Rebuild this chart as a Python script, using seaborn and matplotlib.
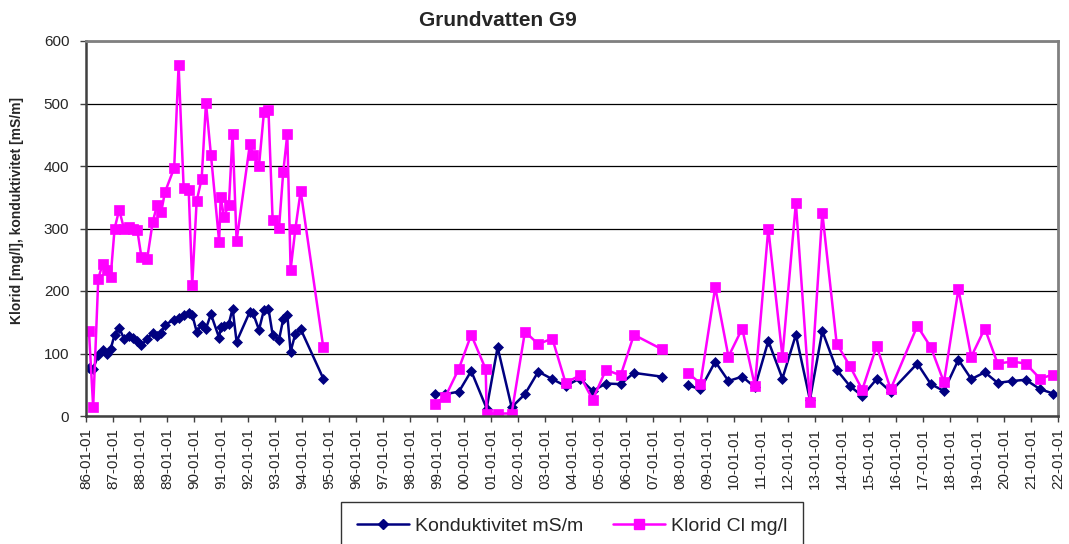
import pandas as pd
import numpy as np
import matplotlib
matplotlib.use('Agg')
import matplotlib.pyplot as plt
import matplotlib.dates as mdates
from matplotlib.lines import Line2D
import seaborn as sns

# sampling dates, shared by both series
dates = [
    '1986-02-10', '1986-04-08', '1986-06-16', '1986-08-14', '1986-10-07', '1986-11-30',
    '1987-01-23', '1987-03-26', '1987-05-29', '1987-08-05', '1987-09-28', '1987-11-25',
    '1988-01-21', '1988-04-08', '1988-06-21', '1988-08-18', '1988-10-15', '1988-12-04',
    '1989-04-08', '1989-06-07', '1989-08-14', '1989-10-21', '1989-12-08',
    '1990-02-06', '1990-04-15', '1990-06-12', '1990-08-18', '1990-12-07', '1990-12-28',
    '1991-02-10', '1991-04-18', '1991-06-07', '1991-07-31',
    '1992-01-27', '1992-03-08', '1992-05-29', '1992-08-05', '1992-10-04', '1992-11-30',
    '1993-02-24', '1993-04-22', '1993-06-16', '1993-07-31', '1993-10-04', '1993-12-14',
    '1994-10-16',
    '1998-12-04', '1999-04-25', '1999-10-25',
    '2000-04-08', '2000-10-21', '2000-11-03', '2001-03-31', '2001-10-07',
    '2002-04-05', '2002-10-02', '2003-04-10', '2003-10-07', '2004-04-17', '2004-10-07',
    '2005-04-05', '2005-10-21', '2006-04-18', '2007-04-28',
    '2008-04-17', '2008-10-04', '2009-04-22', '2009-10-18', '2010-04-22', '2010-10-11',
    '2011-04-10', '2011-10-18', '2012-04-17', '2012-10-24', '2013-04-10', '2013-10-21',
    '2014-04-17', '2014-10-02', '2015-04-15', '2015-10-21', '2016-10-16',
    '2017-04-17', '2017-10-11', '2018-04-25', '2018-10-16', '2019-04-17', '2019-10-07',
    '2020-04-22', '2020-10-21', '2021-05-02', '2021-10-25',
]

konduktivitet = [
    77, 76, 97, 106, 100, 107,
    130, 141, 124, 128, 125, 120,
    113, 124, 133, 128, 133, 146,
    154, 157, 162, 165, 162,
    135, 146, 140, 163, 125, 142,
    144, 148, 172, 119,
    167, 165, 138, 170, 172, 130,
    122, 155, 162, 103, 132, 139,
    60,
    36, 35, 39,
    72, None, 12, 110, 14,
    35, 71, 59, 48, 60, 40,
    52, 51, 69, 63,
    49, 43, 87, 56, 63, 46,
    120, 60, 130, 26, 136, 74,
    48, 32, 59, 39, 84,
    51, 40, 90, 59, 70, 53,
    56, 58, 43, 36,
]

klorid = [
    136, 14, 220, 243, 233, 222,
    300, 330, 300, 302, 300, 298,
    254, 252, 310, 337, 327, 358,
    397, 561, 365, 362, 210,
    344, 380, 501, 418, 279, 351,
    319, 338, 451, 280,
    435, 418, 400, 487, 490, 313,
    301, 390, 451, 234, 300, 360,
    110,
    20, 31, 76,
    130, 75, 4, 4, 4,
    135, 115, 124, 53, 65, 26,
    74, 65, 130, 107,
    69, 52, 206, 95, 140, 48,
    300, 95, 341, 23, 325, 116,
    80, 42, 112, 43, 144,
    110, 54, 203, 95, 140, 84,
    87, 84, 60, 66,
]

# empty rows in the sheet -> the lines are broken here
gaps = ['1997-01-01', '2007-11-01']

df = pd.DataFrame({'datum': pd.to_datetime(dates),
                   'kond': pd.to_numeric(pd.Series(konduktivitet), errors='coerce'),
                   'klorid': pd.to_numeric(pd.Series(klorid), errors='coerce')})
df['seg'] = np.searchsorted(pd.to_datetime(gaps).values, df['datum'].values)

navy = '#000080'
magenta = '#FF00FF'

sns.set_style('white')
plt.rcParams['font.family'] = ['Liberation Sans', 'DejaVu Sans']

fig, ax = plt.subplots(figsize=(10.69, 5.44), dpi=100)
fig.subplots_adjust(left=86/1069, right=1058/1069, top=1-41/544, bottom=1-416/544)

sns.lineplot(data=df.dropna(subset=['kond']), x='datum', y='kond', units='seg',
             estimator=None, color=navy, linewidth=1.8, marker='D', markersize=5,
             markeredgecolor=navy, markeredgewidth=0.5, ax=ax, legend=False)
sns.lineplot(data=df, x='datum', y='klorid', units='seg',
             estimator=None, color=magenta, linewidth=1.8, marker='s', markersize=6.5,
             markeredgecolor=magenta, markeredgewidth=0.5, ax=ax, legend=False)

ax.set_xlim(pd.Timestamp('1986-01-01'), pd.Timestamp('2022-01-01'))
ax.set_ylim(0, 600)
ax.set_yticks(range(0, 601, 100))
ax.xaxis.set_major_locator(mdates.YearLocator())
ax.xaxis.set_major_formatter(mdates.DateFormatter('%y-%m-%d'))
ax.tick_params(axis='x', labelrotation=90, labelsize=11, length=4.5, width=1,
               direction='out', pad=4, bottom=True, color='#404040')
ax.tick_params(axis='y', labelsize=11, length=4.5, width=1, direction='out',
               pad=7.5, left=True, color='#404040')
ax.set_xlabel('')
ax.set_ylabel('')

ax.yaxis.grid(True, color='black', linewidth=0.9)
ax.set_axisbelow(True)
for side in ['top', 'right']:
    ax.spines[side].set_color('#808080')
    ax.spines[side].set_linewidth(2)
for side in ['left', 'bottom']:
    ax.spines[side].set_color('#404040')
    ax.spines[side].set_linewidth(1.8)

fig.text(498/1069, 1-25.5/544, 'Grundvatten G9', ha='center', va='baseline',
         fontsize=15, fontweight='bold')
fig.text(17/1069, 1-210/544, 'Klorid [mg/l], konduktivitet [mS/m]', rotation=90,
         ha='center', va='center', fontsize=10, fontweight='bold')

handles = [Line2D([], [], color=navy, linewidth=1.8, marker='D', markersize=5),
           Line2D([], [], color=magenta, linewidth=1.8, marker='s', markersize=6.5)]
leg = fig.legend(handles, ['Konduktivitet mS/m', 'Klorid Cl mg/l'], loc='upper center',
                 bbox_to_anchor=(572/1069, 1-502/544), ncol=2, fontsize=14,
                 frameon=True, fancybox=False, edgecolor='black', borderpad=0.8,
                 borderaxespad=0, handlelength=2.7, handletextpad=0.3, columnspacing=1.5)
leg.get_frame().set_linewidth(1)

fig.savefig('out.png', dpi=100)
